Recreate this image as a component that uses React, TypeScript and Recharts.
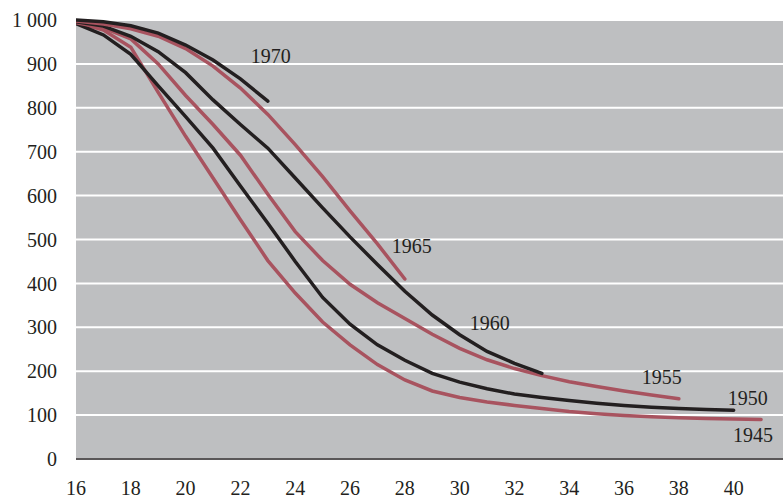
import { CartesianGrid, Line, LineChart, XAxis, YAxis } from 'recharts';

const ages = [16, 17, 18, 19, 20, 21, 22, 23, 24, 25, 26, 27, 28, 29, 30, 31, 32, 33, 34, 35, 36, 37, 38, 39, 40, 41];
const xTicks = [16, 18, 20, 22, 24, 26, 28, 30, 32, 34, 36, 38, 40];
const yTicks = [0, 100, 200, 300, 400, 500, 600, 700, 800, 900, 1000];

const s1945 = [995, 977, 938, 835, 735, 640, 545, 452, 378, 312, 260, 215, 180, 155, 140, 130, 122, 115, 108, 103, 99, 96, 94, 92, 91, 90];
const s1950 = [992, 966, 922, 850, 780, 708, 622, 537, 450, 368, 307, 260, 225, 195, 175, 160, 148, 140, 133, 127, 122, 118, 115, 113, 111];
const s1955 = [994, 982, 957, 900, 828, 762, 692, 603, 518, 452, 398, 356, 320, 284, 252, 226, 206, 190, 176, 165, 155, 146, 137];
const s1960 = [996, 986, 963, 928, 880, 818, 762, 708, 640, 572, 506, 443, 382, 328, 283, 245, 218, 195];
const s1965 = [998, 991, 980, 963, 935, 895, 845, 785, 716, 643, 565, 490, 410];
const s1970 = [1000, 996, 987, 970, 943, 909, 866, 815];

const RED = '#a8535f';
const BLACK = '#231f20';
const FONT = '"Liberation Serif", "DejaVu Serif", serif';

const toData = (vals: number[]) => vals.map((v, i) => ({ age: ages[i], v }));

// name, values, colour, label offset from the last point
const series = [
  { name: '1945', vals: s1945, color: RED, dx: -8, dy: 23 },
  { name: '1950', vals: s1950, color: BLACK, dx: 14, dy: -5 },
  { name: '1955', vals: s1955, color: RED, dx: -17, dy: -15 },
  { name: '1960', vals: s1960, color: BLACK, dx: -52, dy: -43 },
  { name: '1965', vals: s1965, color: RED, dx: 7, dy: -26 },
  { name: '1970', vals: s1970, color: BLACK, dx: 3, dy: -38 }
];

const endLabel = (text: string, last: number, dx: number, dy: number) => (p: any) =>
  p.index === last ? (
    <text x={p.x + dx} y={p.y + dy} textAnchor="middle" fontSize={20} fontFamily={FONT} fill={BLACK}>
      {text}
    </text>
  ) : (
    <g />
  );

export default function App() {
  return (
    <div style={{ position: 'absolute', left: 0, top: 0, width: 783, height: 500, background: '#fff' }}>
      <LineChart width={783} height={500} margin={{ top: 20, right: 0, left: 0, bottom: 0 }}>
        <CartesianGrid fill="#bebfc1" stroke="#ffffff" strokeWidth={2} vertical={false} />
        <XAxis
          type="number"
          dataKey="age"
          domain={[16, 41.8]}
          ticks={xTicks}
          height={41}
          tickLine={false}
          tickSize={0}
          tickMargin={22}
          axisLine={{ stroke: BLACK, strokeWidth: 1.5 }}
          tick={{ fill: BLACK, fontSize: 20, fontFamily: FONT }}
          allowDataOverflow
        />
        <YAxis
          type="number"
          domain={[0, 1000]}
          ticks={yTicks}
          width={76}
          tickLine={false}
          tickSize={0}
          tickMargin={19}
          axisLine={false}
          tick={{ fill: BLACK, fontSize: 20, fontFamily: FONT }}
          tickFormatter={(v: number) => (v === 1000 ? '1 000' : String(v))}
        />
        {series.map((s) => (
          <Line
            key={s.name}
            data={toData(s.vals)}
            dataKey="v"
            type="linear"
            stroke={s.color}
            strokeWidth={3.5}
            strokeLinecap="round"
            dot={false}
            isAnimationActive={false}
            label={endLabel(s.name, s.vals.length - 1, s.dx, s.dy)}
          />
        ))}
      </LineChart>
    </div>
  );
}
